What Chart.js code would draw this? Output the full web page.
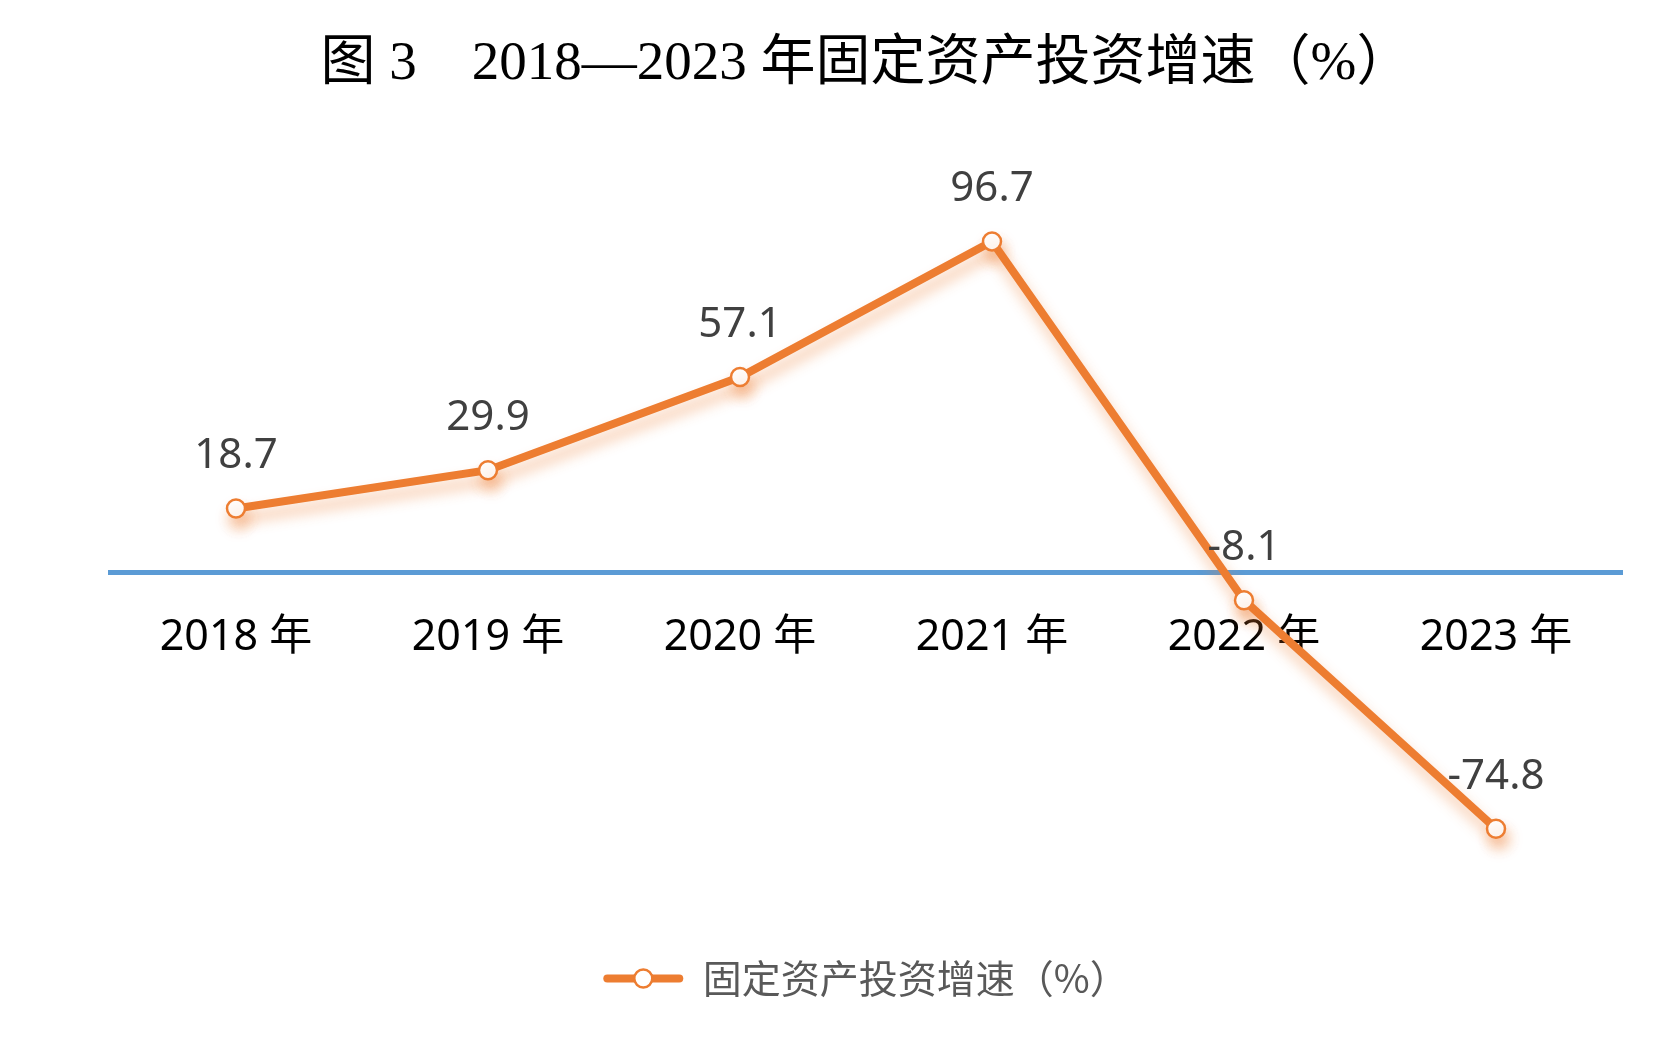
<!DOCTYPE html>
<html>
<head>
<meta charset="utf-8">
<title>图3 2018—2023年固定资产投资增速</title>
<script src="https://cdn.jsdelivr.net/npm/chart.js@4.4.1/dist/chart.umd.min.js"></script>
<style>
  html, body { margin: 0; padding: 0; background: #fff; }
  #wrap { width: 1662px; height: 1062px; position: relative; }
</style>
</head>
<body>
<div id="wrap"><canvas id="growthChart"></canvas></div>
<script>
const years = ['2018 年', '2019 年', '2020 年', '2021 年', '2022 年', '2023 年'];
const growth = [18.7, 29.9, 57.1, 96.7, -8.1, -74.8];
const seriesName = '固定资产投资增速（%）';
const titleText = '图 3　2018—2023 年固定资产投资增速（%）';
const yMin = -100;
const yMax = 120;

const ORANGE = '#ED7D31';

// soft orange shadow under the line, then the value labels above each point
const pointLabels = {
  id: 'pointLabels',
  beforeDatasetsDraw(chart) {
    const ctx = chart.ctx;
    ctx.save();
    ctx.shadowColor = 'rgba(237, 125, 49, 0.45)';
    ctx.shadowBlur = 14;
    ctx.shadowOffsetX = 3;
    ctx.shadowOffsetY = 10;
  },
  afterDatasetsDraw(chart) {
    const ctx = chart.ctx;
    ctx.restore();
    const meta = chart.getDatasetMeta(0);
    ctx.save();
    ctx.font = '42px "Noto Sans"';
    ctx.fillStyle = '#404040';
    ctx.textAlign = 'center';
    ctx.textBaseline = 'middle';
    meta.data.forEach((pt, i) => {
      ctx.fillText(growth[i].toFixed(1), pt.x, pt.y - 52);
    });
    ctx.restore();
  }
};

// legend marker: the line box drawn by chart.js plus the hollow point on it
const legendPoint = {
  id: 'legendPoint',
  afterDraw(chart) {
    const box = chart.legend && chart.legend.legendHitBoxes && chart.legend.legendHitBoxes[0];
    if (!box) return;
    const ctx = chart.ctx;
    const bw = chart.legend.options.labels.boxWidth;
    ctx.save();
    ctx.beginPath();
    ctx.arc(box.left + bw / 2, box.top + box.height / 2, 9, 0, Math.PI * 2);
    ctx.fillStyle = '#fff';
    ctx.fill();
    ctx.lineWidth = 2.5;
    ctx.strokeStyle = ORANGE;
    ctx.stroke();
    ctx.restore();
  }
};

const ctx = document.getElementById('growthChart').getContext('2d');
new Chart(ctx, {
  type: 'line',
  data: {
    labels: years,
    datasets: [
      {
        label: seriesName,
        data: growth,
        borderColor: ORANGE,
        backgroundColor: ORANGE,
        borderWidth: 8,
        tension: 0,
        clip: false,
        pointRadius: 9,
        pointBorderWidth: 2.5,
        pointBackgroundColor: '#fff',
        pointBorderColor: ORANGE,
      },
    ],
  },
  options: {
    responsive: true,
    maintainAspectRatio: false,
    animation: false,
    layout: {
      padding: { left: 110, right: 40, top: 0, bottom: 54 },
    },
    scales: {
      x: {
        position: { y: 0 },
        offset: true,
        grid: { display: false, drawTicks: false },
        border: { display: true, color: '#5B9BD5', width: 5 },
        ticks: {
          color: '#000',
          padding: 39,
          font: { family: '"Noto Sans", "Noto Sans CJK SC"', size: 43 },
        },
      },
      y: {
        display: false,
        min: yMin,
        max: yMax,
      },
    },
    plugins: {
      title: {
        display: true,
        text: titleText,
        color: '#000',
        padding: { top: 32, bottom: 63.6 },
        font: { family: '"Liberation Serif", "Noto Sans CJK SC"', size: 55, weight: 'normal' },
      },
      legend: {
        display: true,
        position: 'bottom',
        labels: {
          boxWidth: 80,
          boxHeight: 8,
          padding: 44,
          color: '#595959',
          useBorderRadius: true,
          borderRadius: 4,
          font: { family: '"Noto Sans CJK SC"', size: 39 },
          generateLabels(chart) {
            return Chart.defaults.plugins.legend.labels.generateLabels(chart).map((item) => {
              item.lineWidth = 0;
              item.fillStyle = ORANGE;
              item.strokeStyle = ORANGE;
              return item;
            });
          },
        },
      },
      tooltip: { enabled: false },
    },
  },
  plugins: [pointLabels, legendPoint],
});
</script>
</body>
</html>
